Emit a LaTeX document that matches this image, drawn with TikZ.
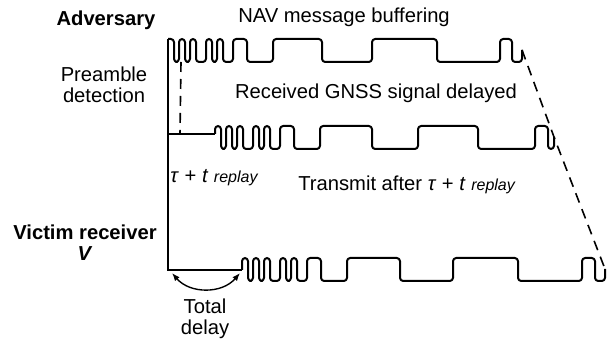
\documentclass[tikz,border=0pt]{standalone}
\usepackage{fontspec}
\setmainfont{Liberation Sans}
\usetikzlibrary{arrows.meta}

\newcommand{\preamblebits}{6/23,5/-23,6/23,5/-23,6/23,10/-23,6/23,5/-23,6/23,10/-23,14/23,26/-23}

\begin{document}
\begin{tikzpicture}[x=0.5pt,y=-0.5pt,
  wave/.style={line width=1pt,rounded corners=1.6pt,line join=round},
  rail/.style={line width=0.9pt},
  cut/.style={line width=0.8pt,dash pattern=on 5pt off 3.5pt},
  lbl/.style={font=\fontsize{10.1}{10.5}\selectfont,align=center,inner sep=0pt}]

  \useasboundingbox (0,0) rectangle (610,341);

  \coordinate (adv) at (168,39);
  \coordinate (rly) at (215,134);
  \coordinate (vic) at (242,270);
  \coordinate (corner) at (168,270);

  \draw[rail] (adv) -- (corner) -- (vic);
  \draw[rail] (adv |- rly) -- (rly);

  \draw[wave] (adv)
    \foreach \dx/\dy in \preamblebits { -- ++(\dx,0) -- ++(0,\dy) }
    \foreach \dx/\dy in {49/23,50/-23,65/23,63/-23,12/23,10/-12} { -- ++(\dx,0) -- ++(0,\dy) }
    coordinate (e1);
  \draw[wave] (rly) -- ++(0,-8)
    \foreach \dx/\dy in \preamblebits { -- ++(\dx,0) -- ++(0,\dy) }
    \foreach \dx/\dy in {52/23,46/-23,60/23,57/-23,13/23,6/-12} { -- ++(\dx,0) -- ++(0,\dy) }
    coordinate (e2);
  \draw[wave] (vic) -- ++(0,-12)
    \foreach \dx/\dy in \preamblebits { -- ++(\dx,0) -- ++(0,\dy) }
    \foreach \dx/\dy in {53/23,53/-23,65/23,64/-23,13/23,10/-12} { -- ++(\dx,0) -- ++(0,\dy) }
    coordinate (e3);

  \coordinate (pretop) at (181,62);
  \coordinate (prebot) at (180,134);
  \draw[cut] (pretop) -- (prebot);
  \draw[cut] (e1) -- (e2) -- (e3);

  \coordinate (tdl) at (172,273);
  \coordinate (tdr) at (240,273);
  \draw[line width=0.7pt,{Latex[length=4pt,width=3pt]}-{Latex[length=4pt,width=3pt]}]
    (tdl) .. controls (190,294) and (222,294) .. (tdr);

  \node[lbl] (adversary) at (106,20) {\textbf{Adversary}};
  \node[lbl] (nav) at (344,17) {NAV message buffering};
  \node[lbl] (preamble) at (104,85) {Preamble\\detection};
  \node[lbl] (received) at (376,93) {Received GNSS signal delayed};
  \node[lbl,anchor=west] (tau) at (170,178)
    {\textit{τ} + \textit{t} {\fontsize{8}{9}\selectfont\textit{replay}}};
  \node[lbl] (transmit) at (407,185)
    {Transmit after \textit{τ} + \textit{t} {\fontsize{8}{9}\selectfont\textit{replay}}};
  \node[lbl] (victim) at (85,243) {\textbf{Victim receiver}\\\textbf{\textit{V}}};
  \node[lbl] (total) at (205,319) {Total\\delay};
\end{tikzpicture}
\end{document}
